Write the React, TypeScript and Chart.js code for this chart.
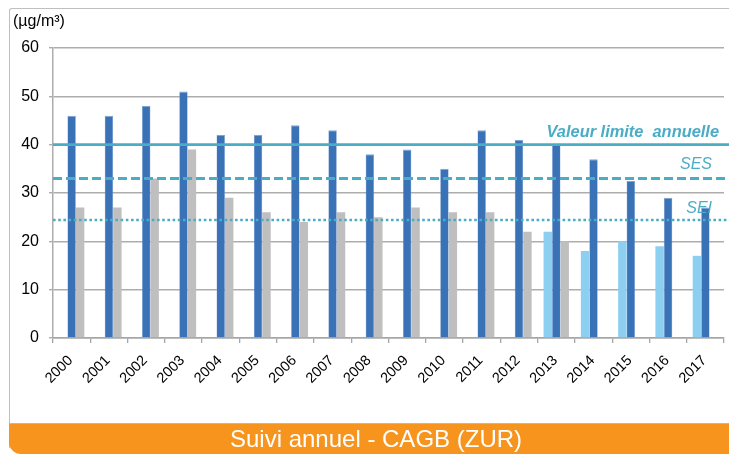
import React, { useEffect, useRef } from "react";
import { Chart, registerables } from "chart.js";

Chart.register(...registerables);

const years = ["2000","2001","2002","2003","2004","2005","2006","2007","2008","2009","2010","2011","2012","2013","2014","2015","2016","2017"];
const lightBlue = [null,null,null,null,null,null,null,null,null,null,null,null,null,22,18,20,19,17];
const darkBlue = [46,46,48,51,42,42,44,43,38,39,35,43,41,40,37,32.5,29,27];
const grey = [27,27,33,39,29,26,24,26,25,27,26,26,22,20,null,null,null,null];

const limitValue = 40;
const sesValue = 33;
const seiValue = 24.4;
const limitLabel = "Valeur limite  annuelle";
const sesLabel = "SES";
const seiLabel = "SEI";
const unitLabel = "(µg/m³)";
const bannerText = "Suivi annuel - CAGB (ZUR)";

const TEAL = "#4BACC6";

const refLinesPlugin = {
  id: "refLines",
  afterDatasetsDraw(chart: any) {
    const { ctx, chartArea, scales } = chart;
    const y = scales.y;
    const x0 = chartArea.left;
    const x1 = chart.width;
    ctx.save();
    ctx.strokeStyle = TEAL;
    let py = y.getPixelForValue(limitValue);
    ctx.lineWidth = 2.6;
    ctx.setLineDash([]);
    ctx.beginPath(); ctx.moveTo(x0, py); ctx.lineTo(x1, py); ctx.stroke();
    py = y.getPixelForValue(sesValue);
    ctx.lineWidth = 2.8;
    ctx.setLineDash([9, 4]);
    ctx.beginPath(); ctx.moveTo(x0, py); ctx.lineTo(x1, py); ctx.stroke();
    py = y.getPixelForValue(seiValue);
    ctx.lineWidth = 2.6;
    ctx.setLineDash([2.6, 2.6]);
    ctx.beginPath(); ctx.moveTo(x0, py); ctx.lineTo(x1, py); ctx.stroke();
    ctx.setLineDash([]);

    ctx.fillStyle = TEAL;
    ctx.textAlign = "right";
    ctx.textBaseline = "middle";
    ctx.font = "italic bold 16.4px 'Liberation Sans', Arial, sans-serif";
    ctx.fillText(limitLabel, 719, y.getPixelForValue(limitValue) - 12);
    ctx.font = "italic 16px 'Liberation Sans', Arial, sans-serif";
    ctx.fillText(sesLabel, 712, y.getPixelForValue(sesValue) - 14);
    ctx.fillText(seiLabel, 712, y.getPixelForValue(seiValue) - 12);

    ctx.fillStyle = "#000";
    ctx.textAlign = "left";
    ctx.font = "16px 'Liberation Sans', Arial, sans-serif";
    ctx.fillText(unitLabel, 13, 22);
    ctx.restore();
  },
};

export default function App() {
  const ref = useRef<HTMLCanvasElement | null>(null);
  useEffect(() => {
    if (!ref.current) return;
    const chart = new Chart(ref.current, {
      type: "bar",
      data: {
        labels: years,
        datasets: [
          { label: "a", data: lightBlue as any, backgroundColor: "#8DCFF0" },
          { label: "b", data: darkBlue, backgroundColor: "#3A72B8", borderColor: "#7FA3D3", borderWidth: { top: 1, left: 0.5, right: 0.5, bottom: 0 } as any },
          { label: "c", data: grey as any, backgroundColor: "#BFBFBF" },
        ],
      },
      options: {
        animation: false,
        responsive: false,
        maintainAspectRatio: false,
        events: [],
        layout: { padding: { left: 0, right: 5, top: 48, bottom: 56 } },
        plugins: { legend: { display: false }, tooltip: { enabled: false }, title: { display: false } },
        datasets: { bar: { categoryPercentage: 0.68, barPercentage: 1 } },
        scales: {
          x: {
            offset: true,
            grid: { offset: true, drawOnChartArea: false, drawTicks: true, tickLength: 5, color: "#A6A6A6", lineWidth: 1.3 },
            border: { color: "#A6A6A6", width: 1.5 },
            ticks: { minRotation: 45, maxRotation: 45, padding: 9, labelOffset: -1, color: "#000", font: { size: 14.5, family: "'Liberation Sans', Arial, sans-serif" }, autoSkip: false },
            afterFit: (s: any) => { s.height = 60; },
          },
          y: {
            min: 0, max: 60,
            ticks: { stepSize: 10, padding: 10, color: "#000", font: { size: 16, family: "'Liberation Sans', Arial, sans-serif" } },
            grid: { color: "#ADADAD", lineWidth: 1.4, tickLength: 4 },
            border: { color: "#ADADAD", width: 1.5 },
            afterFit: (s: any) => { s.width = 53; },
          },
        },
      },
      plugins: [refLinesPlugin],
    });
    return () => chart.destroy();
  }, []);

  return (
    <div style={{ position: "fixed", left: 0, top: 0, width: 729, height: 454, background: "#fff", overflow: "hidden" }}>
      <div style={{ position: "absolute", left: 9, top: 8, width: 740, height: 440, borderLeft: "1.5px solid #BFBFBF", borderTop: "1.5px solid #BFBFBF", borderTopLeftRadius: 3, boxSizing: "border-box" }} />
      <canvas ref={ref} width={729} height={454} style={{ position: "absolute", left: 0, top: 0, width: 729, height: 454 }} />
      <div style={{ position: "absolute", left: 9, top: 423, width: 720, height: 31, background: "#F7941E", borderTop: "1px solid #B9B9B9", borderBottomLeftRadius: 12, boxSizing: "border-box", color: "#fff", font: "24px 'Liberation Sans', Arial, sans-serif", lineHeight: "30px", textAlign: "center", paddingLeft: 14 }}>
        {bannerText}
      </div>
    </div>
  );
}
